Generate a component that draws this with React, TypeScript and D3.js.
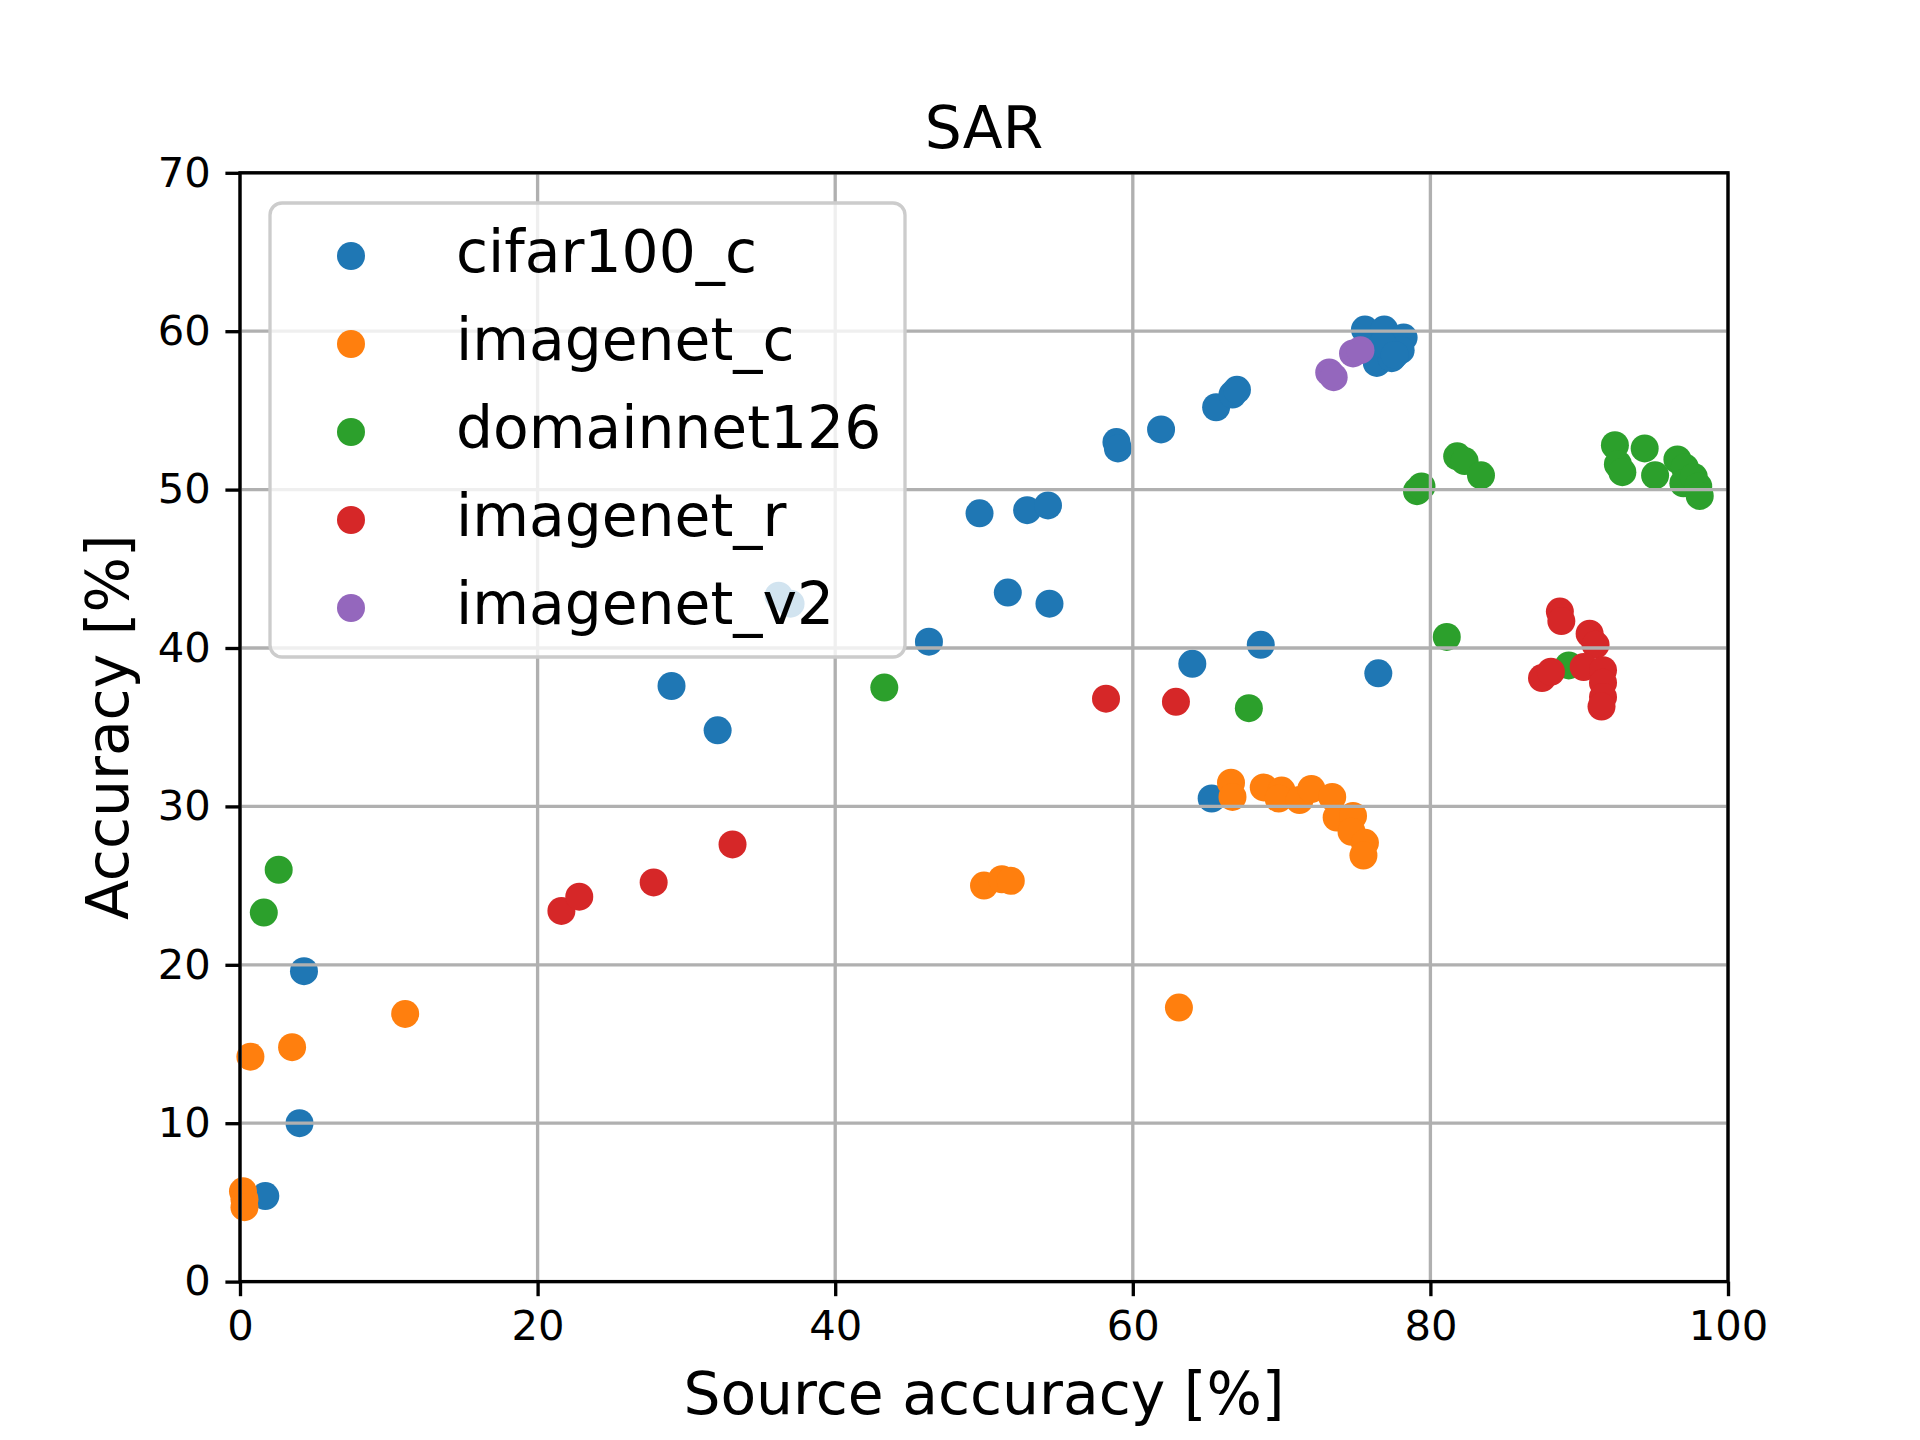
import React, { useEffect, useRef } from 'react';
import * as d3 from 'd3';

type Pt = [number, number];

// source accuracy [%], accuracy [%]
const cifar100C: Pt[] = [
  [1.7, 5.4], [4.0, 10.0], [4.3, 19.6], [29.0, 37.6], [32.1, 34.8], [36.2, 43.3], [37.0, 42.8],
  [46.3, 40.4], [49.7, 48.5], [51.6, 43.5], [52.9, 48.7], [54.3, 49.0], [54.4, 42.8],
  [58.9, 53.0], [59.0, 52.6], [61.9, 53.8], [65.6, 55.2], [66.7, 56.0], [67.0, 56.3],
  [64.0, 39.0], [68.6, 40.2], [65.3, 30.5], [76.5, 38.4],
  [75.6, 60.1], [76.9, 60.1], [78.2, 59.6], [78.0, 58.8], [76.4, 58.0], [77.4, 58.3], [76.8, 59.2], [77.6, 58.5],
];
const imagenetC: Pt[] = [
  [0.2, 5.7], [0.3, 5.2], [0.3, 4.7], [0.7, 14.2], [3.5, 14.8], [11.1, 16.9],
  [50.0, 25.0], [51.2, 25.4], [51.8, 25.3], [63.1, 17.3],
  [66.6, 31.5], [66.7, 30.6], [68.8, 31.2], [70.0, 31.0], [69.8, 30.5], [71.2, 30.4], [72.0, 31.1],
  [73.4, 30.6], [73.7, 29.3], [74.8, 29.4], [74.7, 28.4], [75.6, 27.7], [75.5, 26.9],
];
const domainnet126: Pt[] = [
  [1.6, 23.3], [2.6, 26.0], [43.3, 37.5], [67.8, 36.2], [79.1, 49.9], [79.4, 50.2], [81.1, 40.7],
  [81.8, 52.1], [82.3, 51.8], [83.4, 50.9], [89.3, 38.9],
  [92.4, 52.8], [92.6, 51.6], [92.9, 51.1], [94.4, 52.6], [95.1, 50.9], [96.6, 51.9], [97.1, 51.4],
  [97.0, 50.4], [97.7, 50.8], [98.0, 50.2], [98.1, 49.6],
];
const imagenetR: Pt[] = [
  [21.6, 23.4], [22.8, 24.3], [27.8, 25.2], [33.1, 27.6], [58.2, 36.8], [62.9, 36.6],
  [88.7, 42.3], [88.8, 41.7], [90.7, 40.9], [91.1, 40.2], [87.5, 38.1], [88.1, 38.5],
  [90.3, 38.8], [91.6, 38.6], [91.6, 37.8], [91.6, 36.9], [91.5, 36.3],
];
const imagenetV2: Pt[] = [[73.2, 57.4], [73.5, 57.1], [74.8, 58.6], [75.3, 58.8]];

const seriesNames = ['cifar100_c', 'imagenet_c', 'domainnet126', 'imagenet_r', 'imagenet_v2'];
const seriesData = [cifar100C, imagenetC, domainnet126, imagenetR, imagenetV2];
const colors = ['#1f77b4', '#ff7f0e', '#2ca02c', '#d62728', '#9467bd'];

const xTicks = [0, 20, 40, 60, 80, 100];
const yTicks = [0, 10, 20, 30, 40, 50, 60, 70];

const App: React.FC = () => {
  const svgRef = useRef<SVGSVGElement | null>(null);

  useEffect(() => {
    if (!svgRef.current) return;
    const width = 1920;
    const height = 1440;
    const left = 240, right = 1728, top = 172.8, bottom = 1281.6;
    const font = 'DejaVu Sans, sans-serif';
    const lw = 3.33;

    const svg = d3.select(svgRef.current).attr('width', width).attr('height', height);
    svg.selectAll('*').remove();
    svg.append('rect').attr('width', width).attr('height', height).attr('fill', 'white');

    const x = d3.scaleLinear().domain([0, 100]).range([left, right]);
    const y = d3.scaleLinear().domain([0, 70]).range([bottom, top]);

    // points
    seriesData.forEach((pts, i) => {
      svg.append('g')
        .selectAll('circle')
        .data(pts)
        .enter()
        .append('circle')
        .attr('cx', (d) => x(d[0]))
        .attr('cy', (d) => y(d[1]))
        .attr('r', 14)
        .attr('fill', colors[i]);
    });

    // grid (matplotlib draws it above the scatter)
    const grid = svg.append('g');
    grid.selectAll('.gx').data(xTicks).enter().append('line')
      .attr('x1', (d) => x(d)).attr('x2', (d) => x(d))
      .attr('y1', top).attr('y2', bottom)
      .attr('stroke', '#b0b0b0').attr('stroke-width', lw);
    grid.selectAll('.gy').data(yTicks).enter().append('line')
      .attr('x1', left).attr('x2', right)
      .attr('y1', (d) => y(d)).attr('y2', (d) => y(d))
      .attr('stroke', '#b0b0b0').attr('stroke-width', lw);

    // axes
    const xAxis = svg.append('g')
      .attr('transform', `translate(0, ${bottom})`)
      .call(d3.axisBottom(x).tickValues(xTicks).tickFormat((d) => String(d)).tickSize(14.6).tickSizeOuter(0).tickPadding(14.6));
    const yAxis = svg.append('g')
      .attr('transform', `translate(${left}, 0)`)
      .call(d3.axisLeft(y).tickValues(yTicks).tickFormat((d) => String(d)).tickSize(14.6).tickSizeOuter(0).tickPadding(14.6));
    [xAxis, yAxis].forEach((ax) => {
      ax.select('.domain').remove();
      ax.selectAll('line').attr('stroke', 'black').attr('stroke-width', lw);
      ax.selectAll('text').attr('fill', 'black').style('font-size', '41.7px').style('font-family', font);
    });

    // spines
    svg.append('rect')
      .attr('x', left).attr('y', top)
      .attr('width', right - left).attr('height', bottom - top)
      .attr('fill', 'none').attr('stroke', 'black').attr('stroke-width', lw);

    // labels
    svg.append('text').text('SAR')
      .attr('x', (left + right) / 2).attr('y', 148)
      .attr('text-anchor', 'middle').style('font-size', '58.3px').style('font-family', font);
    svg.append('text').text('Source accuracy [%]')
      .attr('x', (left + right) / 2).attr('y', 1414)
      .attr('text-anchor', 'middle').style('font-size', '58.3px').style('font-family', font);
    svg.append('text').text('Accuracy [%]')
      .attr('transform', `translate(128, ${(top + bottom) / 2}) rotate(-90)`)
      .attr('text-anchor', 'middle').style('font-size', '58.3px').style('font-family', font);

    // legend
    const lg = svg.append('g');
    lg.append('rect')
      .attr('x', 270).attr('y', 203).attr('width', 635).attr('height', 454).attr('rx', 12)
      .attr('fill', 'white').attr('fill-opacity', 0.8)
      .attr('stroke', '#cccccc').attr('stroke-width', lw);
    const rows = lg.selectAll('.row').data(seriesNames).enter().append('g')
      .attr('transform', (_d, i) => `translate(0, ${256 + i * 88})`);
    rows.append('circle').attr('cx', 351).attr('cy', 0).attr('r', 14)
      .attr('fill', (_d, i) => colors[i]);
    rows.append('text').text((d) => d)
      .attr('x', 456).attr('y', 16)
      .style('font-size', '58.3px').style('font-family', font);
  }, []);

  return (
    <div style={{ position: 'absolute', left: 0, top: 0 }}>
      <svg ref={svgRef}></svg>
    </div>
  );
};

export default App;
